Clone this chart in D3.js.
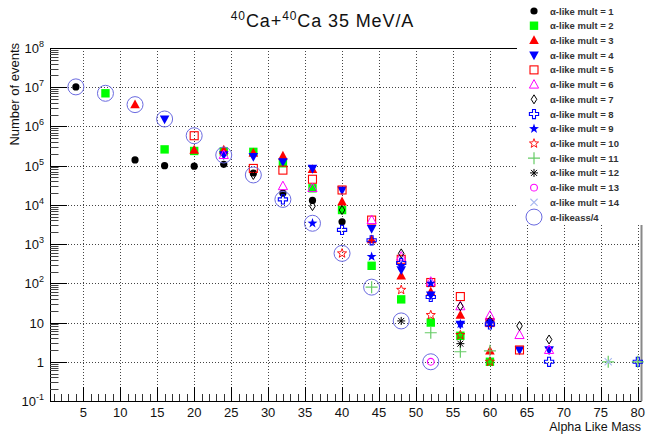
<!DOCTYPE html>
<html>
<head>
<meta charset="utf-8">
<script src="https://cdn.jsdelivr.net/npm/d3@7"></script>
<style>
  body { margin: 0; background: #fff; }
  svg { display: block; font-family: "Liberation Sans", Arial, Helvetica, sans-serif; }
</style>
</head>
<body>
<svg id="chart" width="647" height="434"></svg>
<script>
// Event counts per alpha-like mass, one list of [mass, events] per multiplicity
const mult1  = [[4,1.02e7],[12,1.4e5],[16,1.0e5],[20,9.7e4],[24,1.08e5],[28,6.5e4],[32,2.0e4],[36,1.3e4],[40,3.7e3]];
const mult2  = [[8,7.0e6],[16,2.6e5],[20,2.37e5],[24,2.3e5],[28,2.25e5],[32,1.15e5],[36,2.65e4],[40,7.4e3],[44,280],[48,39],[52,10],[56,4.6],[60,1]];
const mult3  = [[12,3.6e6],[20,2.5e5],[24,2.5e5],[28,2.1e5],[32,1.76e5],[36,8e4],[40,1.2e4],[44,1.3e3],[48,155],[52,60],[56,15.5],[60,1.9]];
const mult4  = [[16,1.55e6],[24,1.9e5],[28,1.7e5],[32,1.26e5],[36,8.5e4],[40,2.4e4],[44,2.5e3],[48,220],[52,50],[56,9],[60,10],[64,2],[68,2]];
const mult5  = [[20,5.8e5],[28,8.5e4],[32,7.7e4],[36,4.5e4],[40,2.4e4],[44,4.1e3],[48,410],[52,105],[56,46],[60,10],[64,2]];
const mult6  = [[24,1.87e5],[32,3.0e4],[36,2.7e4],[44,4.1e3],[48,480],[52,110],[56,26],[60,15],[64,4.8],[68,2]];
const mult7  = [[28,5.8e4],[36,9.3e3],[40,7.4e3],[48,580],[56,26],[60,11],[64,8.2],[68,3.7]];
const mult8  = [[32,1.38e4],[40,2.3e3],[44,1.25e3],[48,330],[52,45],[60,9],[68,1],[80,1]];
const mult9  = [[36,3.4e3],[44,480],[48,280],[52,100],[56,9.2],[60,10]];
const mult10 = [[40,580],[48,68],[52,15.5],[56,4.8],[60,1]];
const mult11 = [[44,80],[52,5.5],[56,1.8],[60,1.9],[76,1],[80,1]];
const mult12 = [[48,11],[56,2.9]];
const mult13 = [[52,1]];
const mult14 = [[76,1]];
const alphaLikeQuarter = [[4,1.02e7],[8,7.0e6],[12,3.6e6],[16,1.55e6],[20,5.8e5],[24,1.87e5],[28,5.8e4],[32,1.38e4],[36,3.4e3],[40,580],[44,80],[48,11],[52,1]];

const seriesNames = ["α-like mult = 1","α-like mult = 2","α-like mult = 3","α-like mult = 4","α-like mult = 5",
  "α-like mult = 6","α-like mult = 7","α-like mult = 8","α-like mult = 9","α-like mult = 10",
  "α-like mult = 11","α-like mult = 12","α-like mult = 13","α-like mult = 14","α-likeass/4"];
const seriesData = [mult1,mult2,mult3,mult4,mult5,mult6,mult7,mult8,mult9,mult10,mult11,mult12,mult13,mult14,alphaLikeQuarter];

const xTickValues = d3.range(5, 81, 5);
const yTickExponents = d3.range(-1, 9);

// Marker painters, one per series, drawn centred at the origin
function starPath(ro, ri) {
  const pts = [];
  for (let i = 0; i < 10; i++) {
    const r = i % 2 === 0 ? ro : ri;
    const a = -Math.PI / 2 + i * Math.PI / 5;
    pts.push([r * Math.cos(a), r * Math.sin(a)]);
  }
  return "M" + pts.map(p => p.join(",")).join("L") + "Z";
}
const crossOutline = (s, w) => `M${-w},${-s}H${w}V${-w}H${s}V${w}H${w}V${s}H${-w}V${w}H${-s}V${-w}H${-w}Z`;

const markers = [
  g => g.append("circle").attr("r", 3.6).attr("fill", "#000"),
  g => g.append("rect").attr("x", -4.2).attr("y", -4.2).attr("width", 8.4).attr("height", 8.4).attr("fill", "#00ff00"),
  g => g.append("path").attr("d", "M0,-5.2L4.8,3.6L-4.8,3.6Z").attr("fill", "#ff0000"),
  g => g.append("path").attr("d", "M0,5.2L4.8,-3.6L-4.8,-3.6Z").attr("fill", "#0000ff"),
  g => g.append("rect").attr("x", -4).attr("y", -4).attr("width", 8).attr("height", 8).attr("fill", "none").attr("stroke", "#ff0000").attr("stroke-width", 1.1),
  g => g.append("path").attr("d", "M0,-5L4.6,3.5L-4.6,3.5Z").attr("fill", "none").attr("stroke", "#ff00ff").attr("stroke-width", 1),
  g => g.append("path").attr("d", "M0,-4.5L2.8,0L0,4.5L-2.8,0Z").attr("fill", "none").attr("stroke", "#000").attr("stroke-width", 1),
  g => g.append("path").attr("d", crossOutline(4.6, 1.5)).attr("fill", "none").attr("stroke", "#0000ff").attr("stroke-width", 1.1),
  g => g.append("path").attr("d", starPath(5.2, 2.1)).attr("fill", "#0000ff"),
  g => g.append("path").attr("d", starPath(4.8, 2.0)).attr("fill", "none").attr("stroke", "#ff0000").attr("stroke-width", 0.9),
  g => g.append("path").attr("d", "M-6,0H6M0,-6V6").attr("stroke", "#66cc66").attr("stroke-width", 1.2),
  g => g.append("path").attr("d", "M-4,0H4M0,-4V4M-3,-3L3,3M-3,3L3,-3").attr("stroke", "#000").attr("stroke-width", 1),
  g => g.append("circle").attr("r", 3.4).attr("fill", "none").attr("stroke", "#ff00ff").attr("stroke-width", 1.1),
  g => g.append("path").attr("d", "M-3.6,-3.6L3.6,3.6M-3.6,3.6L3.6,-3.6").attr("stroke", "#a8b8f0").attr("stroke-width", 1.1),
  g => g.append("circle").attr("r", 8).attr("fill", "none").attr("stroke", "#6a6ae0").attr("stroke-width", 1)
];

const svg = d3.select("#chart");
const plotLeft = 50, plotRight = 641.5, plotTop = 48, plotBottom = 401;

const x = d3.scaleLinear().domain([0.5, 80.5]).range([plotLeft, plotRight]);
const y = d3.scaleLog().domain([0.1, 1e8]).range([plotBottom, plotTop]);

// Dotted grid
const grid = svg.append("g").attr("stroke", "#444").attr("stroke-width", 1).attr("stroke-dasharray", "1,2");
grid.selectAll("line.gx").data(xTickValues).join("line")
  .attr("x1", d => Math.round(x(d)) + 0.5).attr("x2", d => Math.round(x(d)) + 0.5)
  .attr("y1", plotTop).attr("y2", plotBottom);
grid.selectAll("line.gy").data(yTickExponents.filter(e => e > -1 && e < 8)).join("line")
  .attr("x1", plotLeft).attr("x2", plotRight)
  .attr("y1", e => Math.round(y(Math.pow(10, e))) + 0.5).attr("y2", e => Math.round(y(Math.pow(10, e))) + 0.5);

// Frame
svg.append("line").attr("x1", plotLeft).attr("x2", plotRight).attr("y1", plotTop + 0.5).attr("y2", plotTop + 0.5).attr("stroke", "#000");
svg.append("line").attr("x1", plotRight).attr("x2", plotRight).attr("y1", plotTop).attr("y2", plotBottom).attr("stroke", "#888").attr("stroke-width", 2);

// X axis: major ticks every 5, minor every 1, pointing inward
const xAxis = svg.append("g");
xAxis.append("line").attr("x1", plotLeft).attr("x2", plotRight).attr("y1", plotBottom + 0.5).attr("y2", plotBottom + 0.5).attr("stroke", "#000");
const xMinor = d3.range(1, 81).filter(v => v % 5 !== 0);
xAxis.selectAll("line.mn").data(xMinor).join("line")
  .attr("x1", d => Math.round(x(d)) + 0.5).attr("x2", d => Math.round(x(d)) + 0.5)
  .attr("y1", plotBottom).attr("y2", plotBottom - 7).attr("stroke", "#333");
xAxis.selectAll("line.mj").data(xTickValues).join("line")
  .attr("x1", d => Math.round(x(d)) + 0.5).attr("x2", d => Math.round(x(d)) + 0.5)
  .attr("y1", plotBottom).attr("y2", plotBottom - 14).attr("stroke", "#000");
xAxis.selectAll("text").data(xTickValues).join("text")
  .attr("x", d => x(d)).attr("y", 416.5).attr("text-anchor", "middle")
  .attr("font-size", 13).attr("fill", "#111").text(d => d);

// Y axis: decades with 2..9 minor ticks
const yAxis = svg.append("g");
yAxis.append("line").attr("x1", plotLeft + 0.5).attr("x2", plotLeft + 0.5).attr("y1", plotTop).attr("y2", plotBottom).attr("stroke", "#000");
const yMinor = [];
for (let e = -1; e < 8; e++) for (let m = 2; m <= 9; m++) yMinor.push(m * Math.pow(10, e));
yAxis.selectAll("line.mn").data(yMinor).join("line")
  .attr("x1", plotLeft).attr("x2", plotLeft + 8.5)
  .attr("y1", d => Math.round(y(d)) + 0.5).attr("y2", d => Math.round(y(d)) + 0.5).attr("stroke", "#444");
yAxis.selectAll("line.mj").data(yTickExponents).join("line")
  .attr("x1", plotLeft).attr("x2", plotLeft + 17)
  .attr("y1", e => Math.round(y(Math.pow(10, e))) + 0.5).attr("y2", e => Math.round(y(Math.pow(10, e))) + 0.5).attr("stroke", "#000");
yTickExponents.forEach(e => {
  const t = yAxis.append("text").attr("x", 44).attr("y", y(Math.pow(10, e)) + 5)
    .attr("text-anchor", "end").attr("font-size", 13).attr("fill", "#111");
  if (e === 0) t.text("1");
  else if (e === 1) t.text("10");
  else {
    t.append("tspan").text("10");
    t.append("tspan").attr("font-size", 9).attr("dy", -6).text(e);
  }
});

// Axis titles and header
svg.append("text").attr("transform", "translate(19,43) rotate(-90)").attr("text-anchor", "end")
  .attr("font-size", 13).attr("fill", "#111").text("Number of events");
svg.append("text").attr("x", 641).attr("y", 431).attr("text-anchor", "end")
  .attr("font-size", 12.5).attr("fill", "#111").text("Alpha Like Mass");
const title = svg.append("text").attr("x", 322.5).attr("y", 27).attr("text-anchor", "middle")
  .attr("font-size", 18).attr("letter-spacing", 0.9).attr("fill", "#111");
title.append("tspan").attr("font-size", 12).attr("dy", -7).text("40");
title.append("tspan").attr("dy", 7).text("Ca+");
title.append("tspan").attr("font-size", 12).attr("dy", -7).text("40");
title.append("tspan").attr("dy", 7).text("Ca 35 MeV/A");

// Data points
const plot = svg.append("g");
seriesData.forEach((pts, i) => {
  pts.forEach(([m, v]) => {
    const g = plot.append("g").attr("transform", `translate(${x(m)},${y(v)})`);
    markers[i](g);
  });
});

// Legend, with an opaque box over the upper-right corner
const legend = svg.append("g");
legend.append("rect").attr("x", 517).attr("y", 0).attr("width", 130).attr("height", 225).attr("fill", "#fff");
seriesNames.forEach((name, i) => {
  const ly = 11 + i * 14.72;
  const g = legend.append("g").attr("transform", `translate(534,${ly})`);
  markers[i](g);
  legend.append("text").attr("x", 550).attr("y", ly + 3.5).attr("font-size", 9.5)
    .attr("font-weight", "bold").attr("fill", "#333").text(name);
});
</script>
</body>
</html>
